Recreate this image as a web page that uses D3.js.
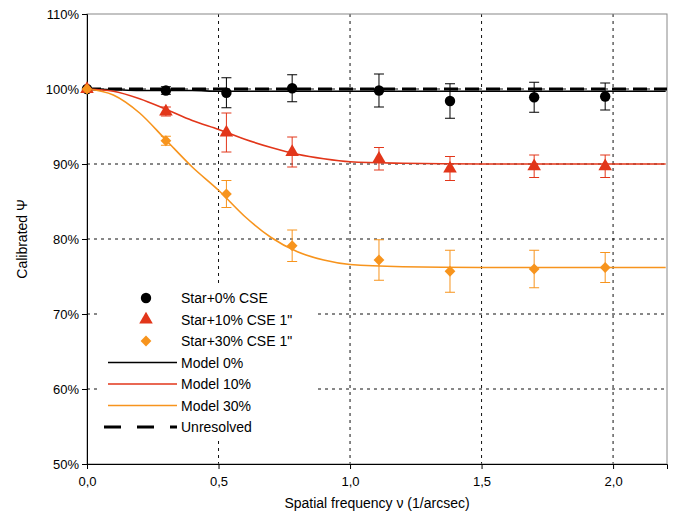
<!DOCTYPE html>
<html><head><meta charset="utf-8">
<script src="https://cdn.jsdelivr.net/npm/d3@7"></script>
<style>body{margin:0;background:#fff}text{font-family:Arial,"Liberation Sans",sans-serif}</style>
</head><body><svg id="c" width="682" height="517"></svg>
<script>
var freq = [0, 0.3, 0.53, 0.78, 1.11, 1.38, 1.7, 1.97];
var star0 = [100, 99.8, 99.5, 100.1, 99.8, 98.4, 98.9, 99.0];
var star0Err = [0.3, 0.5, 2.0, 1.8, 2.2, 2.3, 2.0, 1.8];
var star10 = [100, 97.0, 94.2, 91.6, 90.7, 89.4, 89.7, 89.7];
var star10Err = [0.3, 0.6, 2.6, 2.0, 1.5, 1.6, 1.5, 1.5];
var star30 = [100, 93.1, 86.0, 79.1, 77.2, 75.7, 76.0, 76.2];
var star30Err = [0.3, 0.6, 1.8, 2.1, 2.7, 2.8, 2.5, 2.0];
var modelX = [0, 0.1, 0.2, 0.3, 0.4, 0.5, 0.6, 0.7, 0.8, 0.9, 1.0, 1.2, 1.5, 2.2];
var model0 = [100, 99.9, 99.8, 99.8, 99.8, 99.7, 99.7, 99.7, 99.7, 99.7, 99.7, 99.7, 99.7, 99.7];
var model10 = [100, 99.7, 98.7, 97.3, 95.8, 94.6, 93.3, 92.2, 91.3, 90.7, 90.3, 90.1, 90.0, 90.0];
var model30 = [100, 99.2, 96.8, 93.2, 89.6, 86.5, 83.0, 80.2, 78.3, 77.2, 76.6, 76.3, 76.2, 76.2];
var xTicks = [0, 0.5, 1, 1.5, 2];
var yTicks = [50, 60, 70, 80, 90, 100, 110];

var svg = d3.select("#c");
var L = 87, R = 667, T = 14, B = 464;
var x = d3.scaleLinear().domain([0, 2.205]).range([L, R]);
var y = d3.scaleLinear().domain([50, 110]).range([B, T]);
var fmt = d3.format(".1f");

// grid
svg.selectAll(".gx").data(xTicks.slice(1)).enter().append("line")
  .attr("x1", d => x(d)).attr("x2", d => x(d)).attr("y1", T).attr("y2", B)
  .attr("stroke", "#111").attr("stroke-dasharray", "3,4").attr("stroke-width", 1);
svg.selectAll(".gy").data([60, 70, 80, 90, 100]).enter().append("line")
  .attr("x1", L).attr("x2", R).attr("y1", d => y(d)).attr("y2", d => y(d))
  .attr("stroke", "#111").attr("stroke-dasharray", "3,4").attr("stroke-width", 1);

svg.append("rect").attr("x", L).attr("y", T).attr("width", R - L).attr("height", B - T)
  .attr("fill", "none").attr("stroke", "#888");

// axes
var xa = svg.append("g").attr("transform", "translate(0," + B + ")")
  .call(d3.axisBottom(x).tickValues(xTicks).tickFormat(d => fmt(d).replace(".", ",")).tickSize(5));
var ya = svg.append("g").attr("transform", "translate(" + L + ",0)")
  .call(d3.axisLeft(y).tickValues(yTicks).tickFormat(d => d + "%").tickSize(5));
[xa, ya].forEach(g => { g.selectAll("text").attr("font-size", 13).attr("fill", "#000");
  g.selectAll("line,path").attr("stroke", "#000"); });
xa.selectAll("text").attr("dy", "1.1em");

svg.append("text").attr("x", (L + R) / 2).attr("y", 508).attr("text-anchor", "middle")
  .attr("font-size", 14).text("Spatial frequency ν (1/arcsec)");
svg.append("text").attr("transform", "translate(27," + (T + B) / 2 + ") rotate(-90)")
  .attr("text-anchor", "middle").attr("font-size", 14).text("Calibrated Ψ");

// legend background
svg.append("rect").attr("x", 100).attr("y", 285).attr("width", 218).attr("height", 155).attr("fill", "#fff");

var line = d3.line().x(d => x(d[0])).y(d => y(d[1]));
// unresolved dashed
svg.append("path").datum([[0, 100], [2.205, 100]]).attr("d", line)
  .attr("stroke", "#000").attr("stroke-width", 3).attr("stroke-dasharray", "14,7").attr("fill", "none");
[[model0, "#000"], [model10, "#e2361a"], [model30, "#f7941d"]].forEach(m => {
  svg.append("path").datum(modelX.map((v, i) => [v, m[0][i]])).attr("d", line.curve(d3.curveMonotoneX))
    .attr("stroke", m[1]).attr("stroke-width", 1.6).attr("fill", "none");
});

function errs(vals, er, col) {
  var g = svg.append("g").attr("stroke", col).attr("stroke-width", 1);
  freq.forEach((f, i) => {
    if (i == 0) return;
    var cx = x(f), y1 = y(vals[i] + er[i]), y2 = y(vals[i] - er[i]);
    g.append("line").attr("x1", cx).attr("x2", cx).attr("y1", y1).attr("y2", y2);
    g.append("line").attr("x1", cx - 5).attr("x2", cx + 5).attr("y1", y1).attr("y2", y1);
    g.append("line").attr("x1", cx - 5).attr("x2", cx + 5).attr("y1", y2).attr("y2", y2);
  });
}
errs(star0, star0Err, "#000");
errs(star10, star10Err, "#e2361a");
errs(star30, star30Err, "#f7941d");

var sym = {
  c: d3.symbol().type(d3.symbolCircle).size(85),
  t: d3.symbol().type(d3.symbolTriangle).size(80),
  d: d3.symbol().type(d3.symbolSquare).size(58)
};
function pts(vals, s, col) {
  svg.selectAll(null).data(vals).enter().append("path")
    .attr("d", sym[s]).attr("fill", col)
    .attr("transform", (d, i) => "translate(" + x(freq[i]) + "," + y(d) + ")" + (s == "d" ? " rotate(45)" : ""));
}
pts(star0, "c", "#000");
pts(star10, "t", "#e2361a");
pts(star30, "d", "#f7941d");

// legend
var leg = [
  ["c", "#000", "Star+0% CSE"], ["t", "#e2361a", "Star+10% CSE 1\""], ["d", "#f7941d", "Star+30% CSE 1\""],
  ["l", "#000", "Model 0%"], ["l", "#e2361a", "Model 10%"], ["l", "#f7941d", "Model 30%"], ["u", "#000", "Unresolved"]
];
leg.forEach((d, i) => {
  var ly = 298 + i * 21.5;
  if (d[0] == "l") svg.append("line").attr("x1", 108).attr("x2", 177).attr("y1", ly).attr("y2", ly).attr("stroke", d[1]).attr("stroke-width", 1.6);
  else if (d[0] == "u") svg.append("line").attr("x1", 104).attr("x2", 177).attr("y1", ly).attr("y2", ly).attr("stroke", d[1]).attr("stroke-width", 3).attr("stroke-dasharray", "17,16");
  else svg.append("path").attr("d", sym[d[0]]).attr("fill", d[1]).attr("transform", "translate(146," + ly + ")" + (d[0] == "d" ? " rotate(45)" : ""));
  svg.append("text").attr("x", 181).attr("y", ly + 5).attr("font-size", 14).text(d[2]);
});
</script></body></html>
